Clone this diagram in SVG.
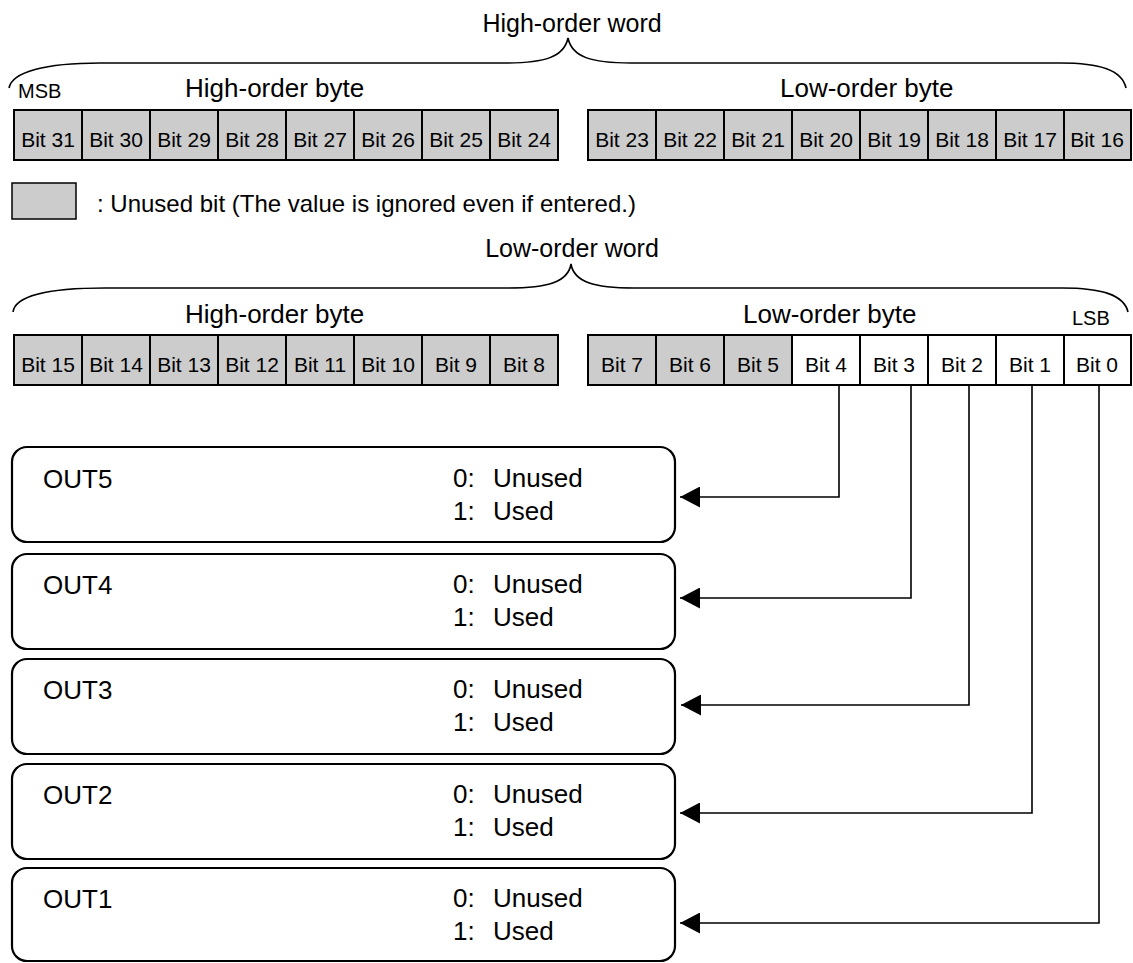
<svg xmlns="http://www.w3.org/2000/svg" width="1133" height="963" viewBox="0 0 1133 963">
<style>
text{font-family:"Liberation Sans",Arial,sans-serif;fill:#000}
.h{font-size:26px}
.hw{font-size:25px;text-anchor:middle}
.b{font-size:21px;text-anchor:middle}
.s{font-size:20px}
.lg{font-size:24px}
.t{font-size:26px}
.u{fill:#cccccc;stroke:#000;stroke-width:2}
.w{fill:#fff;stroke:#000;stroke-width:2}
.brace{fill:none;stroke:#000;stroke-width:1.6}
.box{fill:#fff;stroke:#000;stroke-width:2.2}
.con{fill:none;stroke:#000;stroke-width:1.6}
</style>
<defs>
<marker id="ah" markerUnits="userSpaceOnUse" markerWidth="20" markerHeight="21" refX="20" refY="10.5" orient="auto">
<path d="M0,0 L20,10.5 L0,21 z" fill="#000"/>
</marker>
</defs>

<g id="high-word">
<text class="hw" x="572" y="32">High-order word</text>
<path class="brace" d="M9,88 C12,72 45,63 100,63 L505,63 C545,63 564,57 568,38 C572,57 591,63 631,63 L1060,63 C1100,63 1122,70 1126,88"/>
<text class="s" x="18" y="98">MSB</text>
<text class="h" x="185" y="97">High-order byte</text>
<text class="h" x="780" y="97">Low-order byte</text>
</g>

<g id="bits-high-word">
<rect class="u" x="14" y="110" width="68" height="50"/><text class="b" x="48" y="147">Bit 31</text>
<rect class="u" x="82" y="110" width="68" height="50"/><text class="b" x="116" y="147">Bit 30</text>
<rect class="u" x="150" y="110" width="68" height="50"/><text class="b" x="184" y="147">Bit 29</text>
<rect class="u" x="218" y="110" width="68" height="50"/><text class="b" x="252" y="147">Bit 28</text>
<rect class="u" x="286" y="110" width="68" height="50"/><text class="b" x="320" y="147">Bit 27</text>
<rect class="u" x="354" y="110" width="68" height="50"/><text class="b" x="388" y="147">Bit 26</text>
<rect class="u" x="422" y="110" width="68" height="50"/><text class="b" x="456" y="147">Bit 25</text>
<rect class="u" x="490" y="110" width="68" height="50"/><text class="b" x="524" y="147">Bit 24</text>
<rect class="u" x="588" y="110" width="68" height="50"/><text class="b" x="622" y="147">Bit 23</text>
<rect class="u" x="656" y="110" width="68" height="50"/><text class="b" x="690" y="147">Bit 22</text>
<rect class="u" x="724" y="110" width="68" height="50"/><text class="b" x="758" y="147">Bit 21</text>
<rect class="u" x="792" y="110" width="68" height="50"/><text class="b" x="826" y="147">Bit 20</text>
<rect class="u" x="860" y="110" width="68" height="50"/><text class="b" x="894" y="147">Bit 19</text>
<rect class="u" x="928" y="110" width="68" height="50"/><text class="b" x="962" y="147">Bit 18</text>
<rect class="u" x="996" y="110" width="68" height="50"/><text class="b" x="1030" y="147">Bit 17</text>
<rect class="u" x="1064" y="110" width="67" height="50"/><text class="b" x="1097" y="147">Bit 16</text>
</g>

<g id="legend">
<rect class="u" x="12" y="183" width="64" height="36" style="stroke-width:1.5"/>
<text class="lg" x="97" y="212">: Unused bit (The value is ignored even if entered.)</text>
</g>

<g id="low-word">
<text class="hw" x="572" y="257">Low-order word</text>
<path class="brace" d="M13,312 C15,296 48,288 105,288 L508,288 C548,288 568,282 571,264 C574,282 594,288 634,288 L1062,288 C1102,288 1124,295 1128,312"/>
<text class="h" x="185" y="323">High-order byte</text>
<text class="h" x="743" y="323">Low-order byte</text>
<text class="s" x="1072" y="325">LSB</text>
</g>

<g id="bits-low-word">
<rect class="u" x="14" y="335" width="68" height="50"/><text class="b" x="48" y="372">Bit 15</text>
<rect class="u" x="82" y="335" width="68" height="50"/><text class="b" x="116" y="372">Bit 14</text>
<rect class="u" x="150" y="335" width="68" height="50"/><text class="b" x="184" y="372">Bit 13</text>
<rect class="u" x="218" y="335" width="68" height="50"/><text class="b" x="252" y="372">Bit 12</text>
<rect class="u" x="286" y="335" width="68" height="50"/><text class="b" x="320" y="372">Bit 11</text>
<rect class="u" x="354" y="335" width="68" height="50"/><text class="b" x="388" y="372">Bit 10</text>
<rect class="u" x="422" y="335" width="68" height="50"/><text class="b" x="456" y="372">Bit 9</text>
<rect class="u" x="490" y="335" width="68" height="50"/><text class="b" x="524" y="372">Bit 8</text>
<rect class="u" x="588" y="335" width="68" height="50"/><text class="b" x="622" y="372">Bit 7</text>
<rect class="u" x="656" y="335" width="68" height="50"/><text class="b" x="690" y="372">Bit 6</text>
<rect class="u" x="724" y="335" width="68" height="50"/><text class="b" x="758" y="372">Bit 5</text>
<rect class="w" x="792" y="335" width="68" height="50"/><text class="b" x="826" y="372">Bit 4</text>
<rect class="w" x="860" y="335" width="68" height="50"/><text class="b" x="894" y="372">Bit 3</text>
<rect class="w" x="928" y="335" width="68" height="50"/><text class="b" x="962" y="372">Bit 2</text>
<rect class="w" x="996" y="335" width="68" height="50"/><text class="b" x="1030" y="372">Bit 1</text>
<rect class="w" x="1064" y="335" width="67" height="50"/><text class="b" x="1097" y="372">Bit 0</text>
</g>

<g id="out5">
<rect class="box" x="12" y="447" width="663" height="95" rx="15"/>
<text class="t" x="43" y="488">OUT5</text>
<text class="t" x="453" y="487">0: <tspan x="493">Unused</tspan></text>
<text class="t" x="453" y="520">1: <tspan x="493">Used</tspan></text>
</g>
<g id="out4">
<rect class="box" x="12" y="554" width="663" height="95" rx="15"/>
<text class="t" x="43" y="594">OUT4</text>
<text class="t" x="453" y="593">0: <tspan x="493">Unused</tspan></text>
<text class="t" x="453" y="626">1: <tspan x="493">Used</tspan></text>
</g>
<g id="out3">
<rect class="box" x="12" y="659" width="663" height="95" rx="15"/>
<text class="t" x="43" y="699">OUT3</text>
<text class="t" x="453" y="698">0: <tspan x="493">Unused</tspan></text>
<text class="t" x="453" y="731">1: <tspan x="493">Used</tspan></text>
</g>
<g id="out2">
<rect class="box" x="12" y="764" width="663" height="95" rx="15"/>
<text class="t" x="43" y="804">OUT2</text>
<text class="t" x="453" y="803">0: <tspan x="493">Unused</tspan></text>
<text class="t" x="453" y="836">1: <tspan x="493">Used</tspan></text>
</g>
<g id="out1">
<rect class="box" x="12" y="868" width="663" height="93" rx="15"/>
<text class="t" x="43" y="908">OUT1</text>
<text class="t" x="453" y="907">0: <tspan x="493">Unused</tspan></text>
<text class="t" x="453" y="940">1: <tspan x="493">Used</tspan></text>
</g>

<g id="connectors">
<path class="con" d="M839,385 L839,497 L680,497" marker-end="url(#ah)"/>
<path class="con" d="M911,385 L911,598 L680,598" marker-end="url(#ah)"/>
<path class="con" d="M969,385 L969,705 L681,705" marker-end="url(#ah)"/>
<path class="con" d="M1032,385 L1032,813 L680,813" marker-end="url(#ah)"/>
<path class="con" d="M1099,385 L1099,923 L680,923" marker-end="url(#ah)"/>
</g>
</svg>
